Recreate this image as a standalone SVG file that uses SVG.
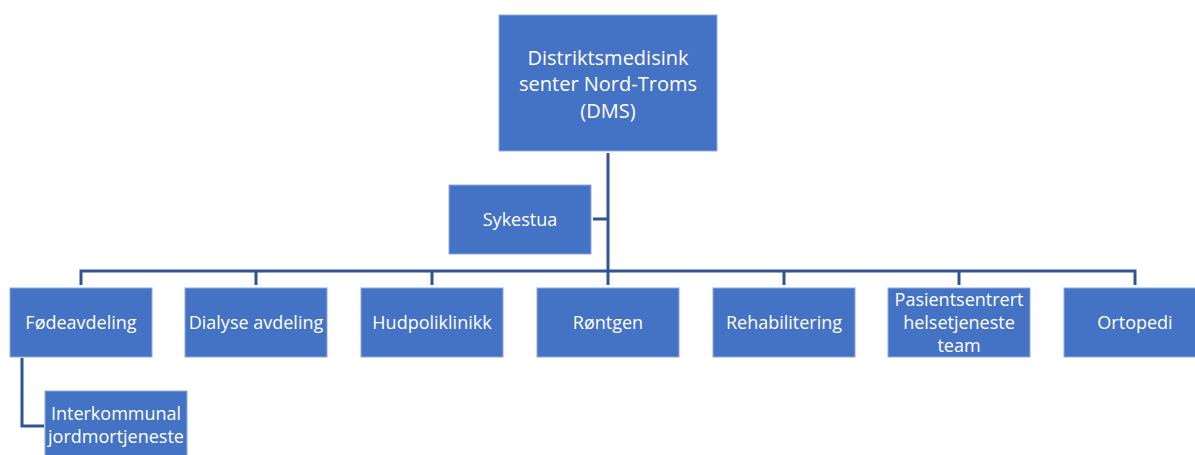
<svg xmlns="http://www.w3.org/2000/svg" width="1195" height="455" viewBox="0 0 1195 455">
<style>
.box{fill:#4472C4;stroke:#8FAADC;stroke-width:1}
.t{fill:#fff;font-family:"Open Sans","Liberation Sans",sans-serif;font-size:18px;text-anchor:middle;dominant-baseline:central}
.tt{font-size:20px}
.ln{fill:none;stroke:#2F5597;stroke-width:3}
</style>
<rect width="1195" height="455" fill="#fff"/>
<g id="connectors">
<path class="ln" d="M608 153 V285"/>
<path class="ln" d="M593 219 H608"/>
<path class="ln" d="M81 285 V271 H1135 V285"/>
<path class="ln" d="M256 271 V285 M432 271 V285 M784 271 V285 M959 271 V285"/>
<path class="ln" d="M22 358 V426 H44"/>
</g>
<g id="dms"><rect class="box" x="499" y="15" width="218" height="136"/><text class="t tt" x="608" y="57">Distriktsmedisink</text><text class="t tt" x="608" y="83">senter Nord-Troms</text><text class="t tt" x="608" y="110">(DMS)</text></g>
<g id="sykestua"><rect class="box" x="449" y="185" width="142" height="69"/><text class="t" x="520" y="219">Sykestua</text></g>
<g id="fode"><rect class="box" x="10" y="288" width="142" height="69"/><text class="t" x="81" y="322">Fødeavdeling</text></g>
<g id="dialyse"><rect class="box" x="185" y="288" width="142" height="69"/><text class="t" x="256" y="322">Dialyse avdeling</text></g>
<g id="hud"><rect class="box" x="361" y="288" width="142" height="69"/><text class="t" x="432" y="322">Hudpoliklinikk</text></g>
<g id="rontgen"><rect class="box" x="537" y="288" width="142" height="69"/><text class="t" x="608" y="322">Røntgen</text></g>
<g id="rehab"><rect class="box" x="713" y="288" width="142" height="69"/><text class="t" x="784" y="322">Rehabilitering</text></g>
<g id="pasient"><rect class="box" x="888" y="288" width="142" height="69"/><text class="t" x="959" y="299">Pasientsentrert</text><text class="t" x="959" y="322">helsetjeneste</text><text class="t" x="959" y="345">team</text></g>
<g id="ortopedi"><rect class="box" x="1064" y="288" width="142" height="69"/><text class="t" x="1135" y="322">Ortopedi</text></g>
<g id="jordmor"><rect class="box" x="45" y="391" width="142" height="69"/><text class="t" x="116" y="413">Interkommunal</text><text class="t" x="116" y="436">jordmortjeneste</text></g>
</svg>
